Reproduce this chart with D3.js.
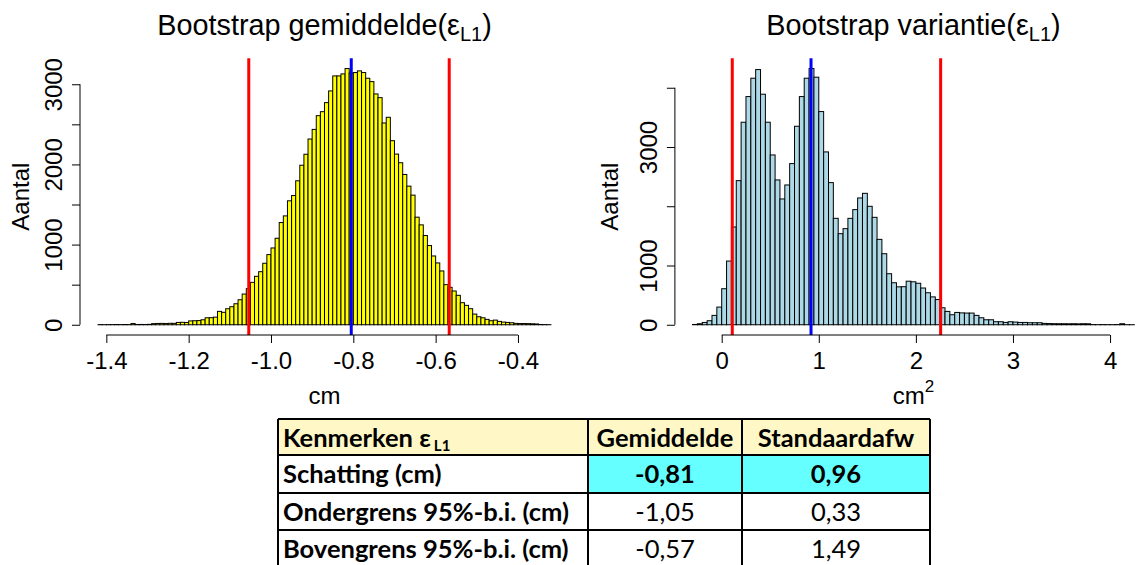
<!DOCTYPE html>
<html lang="nl">
<head>
<meta charset="utf-8">
<title>Bootstrap gemiddelde en variantie</title>
<script src="https://cdn.jsdelivr.net/npm/d3@7"></script>
<style>
  body { margin: 0; background: #fff; }
  svg text { font-family: "Liberation Sans", Arial, sans-serif; fill: #000; }
  .tbl text { font-family: Lato, "Open Sans", sans-serif; }
</style>
</head>
<body>
<div id="chart"></div>
<script>
// histogram 1: bootstrap mean, bins of 0.01 starting at -1.42
var meanStart = -1.42, meanWidth = 0.01;
var meanCounts = [
  2, 1, 2, 2, 3, 2, 3, 2, 15, 3,
  4, 3, 5, 14, 16, 17, 15, 18, 17, 29,
  30, 28, 48, 50, 52, 62, 87, 88, 95, 167,
  155, 200, 225, 262, 312, 383, 450, 529, 604, 662,
  767, 875, 958, 1079, 1275, 1358, 1546, 1612, 1796, 1990,
  2127, 2317, 2437, 2608, 2658, 2771, 2917, 3104, 3104, 3129,
  3196, 3140, 3146, 3167, 3146, 3075, 3033, 2879, 2833, 2517,
  2588, 2296, 2129, 2021, 1875, 1729, 1617, 1342, 1246, 1113,
  988, 858, 771, 671, 500, 467, 421, 367, 275, 242,
  200, 133, 100, 87, 67, 50, 58, 42, 33, 29,
  25, 17, 15, 15, 14, 12, 10, 3, 2, 1
];
// histogram 2: bootstrap variance, bins of 0.05 starting at -0.30
var varStart = -0.30, varWidth = 0.05;
var varCounts = [
  5, 17, 39, 68, 158, 298,
  608, 1075, 1650, 2432, 3418, 3851, 4161, 4307, 3891, 3418,
  2866, 2444, 2123, 2359, 2720, 3350, 3851, 4161, 4324, 4178,
  3598, 2917, 2399, 1796, 1537, 1622, 1796, 1943, 2140, 2218,
  1999, 1813, 1441, 1199, 861, 709, 640, 642, 735, 725,
  700, 620, 540, 470, 425, 287, 225, 169, 208, 200,
  197, 197, 158, 118, 84, 84, 51, 51, 39, 51,
  45, 39, 39, 34, 34, 34, 23, 20, 18, 17,
  17, 16, 17, 15, 17, 16, 3, 2, 3, 2,
  2, 3, 17, 1, 1
];
// vertical lines: lower bound, estimate, upper bound
var meanLines = [-1.054, -0.805, -0.567];
var varLines = [0.109, 0.92, 2.255];

var meanTicksX = [-1.4, -1.2, -1.0, -0.8, -0.6, -0.4];
var meanTicksY = [0, 500, 1000, 1500, 2000, 2500, 3000];
var meanLabelsY = [0, 1000, 2000, 3000];
var varTicksX = [0, 1, 2, 3, 4];
var varTicksY = [0, 1000, 2000, 3000, 4000];
var varLabelsY = [0, 1000, 3000];

var tableHeader = ["Kenmerken ε", "Gemiddelde", "Standaardafw"];
var rowLabels = ["Schatting (cm)", "Ondergrens 95%-b.i. (cm)", "Bovengrens 95%-b.i. (cm)"];
var meanCol = ["-0,81", "-1,05", "-0,57"];
var sdCol = ["0,96", "0,33", "1,49"];

var W = 1138, H = 565;
var svg = d3.select("#chart").append("svg").attr("width", W).attr("height", H);

var plotTop = 58.3, plotBottom = 335;
// R style labels use a plain hyphen for the minus sign
var loc = d3.formatLocale({decimal: ".", thousands: "", grouping: [3], currency: ["", ""], minus: "-"});

function panel(opt) {
  var n = opt.counts.length;
  var lo = opt.start, hi = opt.start + n * opt.width;
  var pad = 0.04 * (hi - lo);
  var x = d3.scaleLinear().domain([lo - pad, hi + pad]).range([opt.left, opt.right]);
  var maxC = d3.max(opt.counts);
  var y = d3.scaleLinear().domain([-0.04 * maxC, 1.04 * maxC]).range([plotBottom, plotTop]);
  var g = svg.append("g");

  g.selectAll("rect.bar")
    .data(opt.counts)
    .enter()
    .append("rect")
    .attr("class", "bar")
    .attr("x", function(d, i) { return x(lo + i * opt.width); })
    .attr("width", function(d, i) { return x(lo + (i + 1) * opt.width) - x(lo + i * opt.width); })
    .attr("y", function(d) { return y(d); })
    .attr("height", function(d) { return y(0) - y(d); })
    .attr("fill", opt.fill)
    .attr("stroke", "#000")
    .attr("stroke-width", 1);

  g.selectAll("line.ci")
    .data(opt.lines)
    .enter()
    .append("line")
    .attr("x1", function(d) { return x(d); })
    .attr("x2", function(d) { return x(d); })
    .attr("y1", plotTop)
    .attr("y2", plotBottom)
    .attr("stroke", function(d, i) { return i == 1 ? "#0000ff" : "#ff0000"; })
    .attr("stroke-width", 3);

  // x axis, line only between first and last tick
  var ax = g.append("g").attr("transform", "translate(0," + plotBottom + ")")
    .call(d3.axisBottom(x).tickValues(opt.ticksX).tickSize(8).tickPadding(9)
      .tickFormat(opt.fmtX));
  ax.select(".domain").remove();
  ax.append("line")
    .attr("x1", x(opt.ticksX[0])).attr("x2", x(opt.ticksX[opt.ticksX.length - 1]))
    .attr("stroke", "#000");
  ax.selectAll("text").attr("font-size", "24px").attr("fill", "#000")
    .style("font-family", "'Liberation Sans', Arial, sans-serif");

  var ay = g.append("g").attr("transform", "translate(" + opt.left + ",0)")
    .call(d3.axisLeft(y).tickValues(opt.ticksY).tickSize(8)
      .tickFormat(function(d) { return opt.labelsY.indexOf(d) >= 0 ? d : ""; }));
  ay.select(".domain").remove();
  ay.append("line")
    .attr("y1", y(opt.ticksY[0])).attr("y2", y(opt.ticksY[opt.ticksY.length - 1]))
    .attr("stroke", "#000");
  ay.selectAll("text")
    .attr("transform", "rotate(-90)")
    .attr("x", 0).attr("y", -18).attr("dy", 0)
    .attr("text-anchor", "middle")
    .attr("font-size", "24px").attr("fill", "#000")
    .style("font-family", "'Liberation Sans', Arial, sans-serif");

  var cx = (opt.left + opt.right) / 2;
  // title with subscript
  var t = g.append("text").attr("x", cx).attr("y", 35).attr("text-anchor", "middle")
    .attr("font-size", "28.8px");
  t.append("tspan").text(opt.title + "(ε");
  t.append("tspan").attr("font-size", "20px").attr("dy", 6).text("L1");
  t.append("tspan").attr("dy", -6).text(")");

  g.append("text")
    .attr("transform", "translate(" + opt.ylabX + "," + ((plotTop + plotBottom) / 2) + ") rotate(-90)")
    .attr("text-anchor", "middle").attr("font-size", "24px").text("Aantal");

  var xl = g.append("text").attr("x", cx).attr("y", 404).attr("text-anchor", "middle")
    .attr("font-size", "24px");
  xl.append("tspan").text("cm");
  if (opt.squared) {
    xl.append("tspan").attr("font-size", "17px").attr("dy", -12).text("2");
  }
}

panel({
  counts: meanCounts, start: meanStart, width: meanWidth, lines: meanLines,
  left: 80, right: 569, fill: "#ffff00",
  ticksX: meanTicksX, ticksY: meanTicksY, labelsY: meanLabelsY,
  fmtX: loc.format(".1f"), title: "Bootstrap gemiddelde", ylabX: 29, squared: false
});
panel({
  counts: varCounts, start: varStart, width: varWidth, lines: varLines,
  left: 674.9, right: 1152, fill: "#add8e6",
  ticksX: varTicksX, ticksY: varTicksY, labelsY: varLabelsY,
  fmtX: loc.format("d"), title: "Bootstrap variantie", ylabX: 618, squared: true
});

// table
var colX = [278, 588, 742, 930];
var rowY = [419, 455, 493, 530, 567];
var tbl = svg.append("g").attr("class", "tbl");
var cells = [];
cells.push([tableHeader[0], tableHeader[1], tableHeader[2]]);
rowLabels.forEach(function(r, i) { cells.push([r, meanCol[i], sdCol[i]]); });

cells.forEach(function(row, ri) {
  row.forEach(function(txt, ci) {
    var bg = "#fff";
    if (ri == 0) bg = "#fff8c6";
    else if (ri == 1 && ci > 0) bg = "#66ffff";
    tbl.append("rect")
      .attr("x", colX[ci]).attr("y", rowY[ri])
      .attr("width", colX[ci + 1] - colX[ci]).attr("height", rowY[ri + 1] - rowY[ri])
      .attr("fill", bg);
    var bold = ri == 0 || ci == 0 || ri == 1;
    var tx = ci == 0 ? colX[0] + 5 : (colX[ci] + colX[ci + 1]) / 2;
    var te = tbl.append("text")
      .attr("x", tx).attr("y", rowY[ri] + 28)
      .attr("text-anchor", ci == 0 ? "start" : "middle")
      .attr("font-size", "25.5px")
      .attr("font-weight", bold ? "bold" : "normal");
    te.append("tspan").text(txt);
    if (ri == 0 && ci == 0) {
      te.append("tspan").attr("font-size", "15px").attr("dy", 4).attr("dx", 3).text("L1");
    }
  });
});
colX.forEach(function(cx) {
  tbl.append("line").attr("x1", cx).attr("x2", cx).attr("y1", rowY[0]).attr("y2", rowY[rowY.length - 1])
    .attr("stroke", "#000").attr("stroke-width", 2);
});
rowY.forEach(function(ry) {
  tbl.append("line").attr("x1", colX[0]).attr("x2", colX[colX.length - 1]).attr("y1", ry).attr("y2", ry)
    .attr("stroke", "#000").attr("stroke-width", 2);
});
</script>
</body>
</html>
